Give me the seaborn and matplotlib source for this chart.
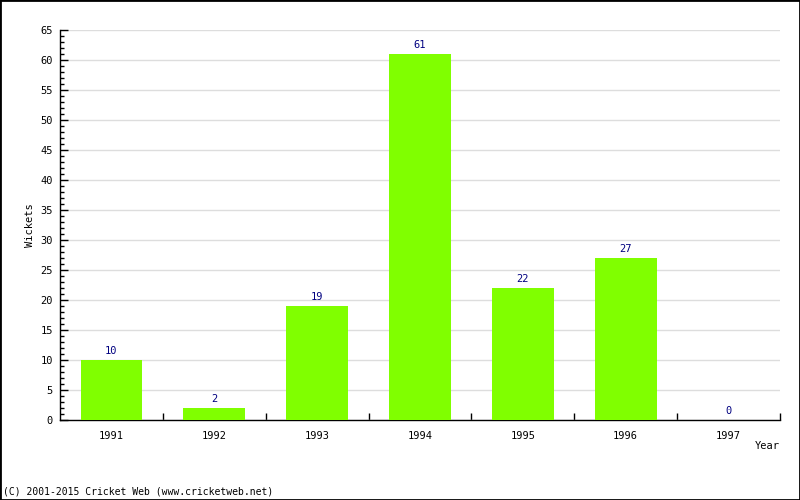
import matplotlib
matplotlib.use("Agg")
import matplotlib.pyplot as plt
import seaborn as sns
import pandas as pd
import numpy as np
from matplotlib.ticker import MultipleLocator, FixedLocator

years = ["1991", "1992", "1993", "1994", "1995", "1996", "1997"]
wickets = [10, 2, 19, 61, 22, 27, 0]

sns.set_style("white")
plt.rcParams['font.family'] = ['DejaVu Sans Mono']
plt.rcParams['text.color'] = 'black'
plt.rcParams['xtick.color'] = 'black'
plt.rcParams['ytick.color'] = 'black'

df = pd.DataFrame({"Year": years, "Wickets": wickets})

fig = plt.figure(figsize=(8, 5), dpi=100)
ax = fig.add_axes([60/800, 80/500, 720/800, 390/500])

sns.barplot(data=df, x="Year", y="Wickets", color="#80FF00", width=0.6,
            saturation=1, ax=ax, zorder=3, linewidth=0, edgecolor="none")

ax.set_xlim(-0.5, 6.5)
ax.set_ylim(0, 65)
ax.yaxis.set_major_locator(MultipleLocator(5))
ax.yaxis.set_minor_locator(MultipleLocator(1))
ax.grid(axis="y", which="major", color="#dddddd", linewidth=1, zorder=0)
ax.set_axisbelow(True)

for s in ["top", "right"]:
    ax.spines[s].set_visible(False)
for s in ["left", "bottom"]:
    ax.spines[s].set_color("black")
    ax.spines[s].set_linewidth(1)

ax.tick_params(axis="y", which="major", direction="in", length=6, width=1,
               labelsize=7.5, pad=5, left=True, colors="black")
ax.tick_params(axis="y", which="minor", direction="in", length=3, width=1, left=True,
               colors="black")
ax.xaxis.set_minor_locator(FixedLocator(np.arange(0.5, 7.0, 1.0)))
ax.tick_params(axis="x", which="major", length=0, labelsize=7.5, pad=8, colors="black")
ax.tick_params(axis="x", which="minor", direction="in", length=5, width=1, bottom=True,
               colors="black")

for i, v in enumerate(wickets):
    ax.annotate(str(v), (i, v), xytext=(0, 3), textcoords="offset points",
                ha="center", va="bottom", fontsize=7.5, color="#000080")

ax.set_xlabel("")
ax.set_ylabel("")
fig.text(767/800, 1 - 446/500, "Year", ha="center", va="center", fontsize=7.5,
         color="black")
fig.text(30/800, 1 - 225/500, "Wickets", ha="center", va="center", fontsize=7.5,
         rotation=90, color="black")
fig.text(3/800, 1 - 492/500, "(C) 2001-2015 Cricket Web (www.cricketweb.net)",
         ha="left", va="center", fontsize=7, color="black")

border = plt.Rectangle((0, 0), 1, 1, transform=fig.transFigure, fill=False,
                       edgecolor="black", linewidth=2)
fig.patches.append(border)

fig.savefig("out.png", dpi=100)
